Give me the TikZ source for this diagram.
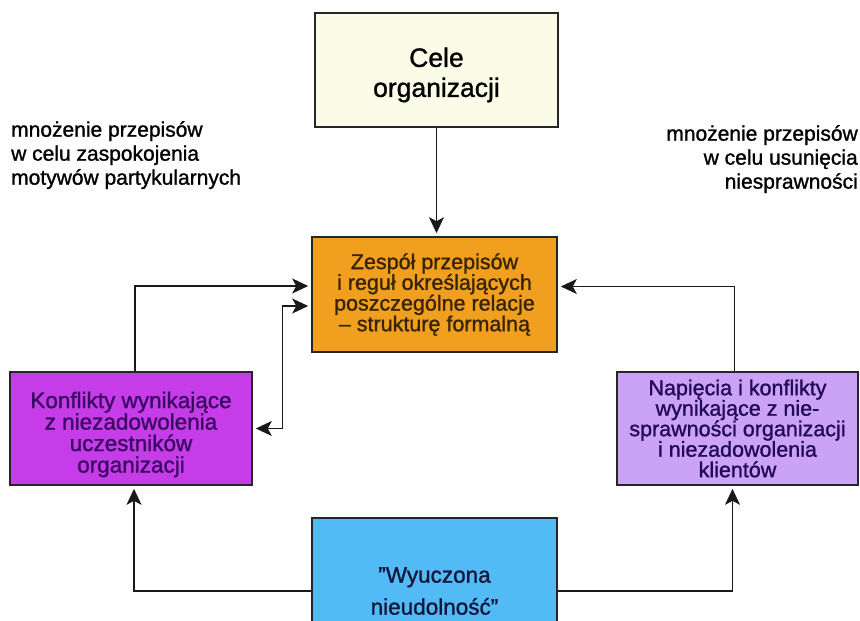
\documentclass[tikz,border=0pt]{standalone}
\usepackage{fontspec}
\setmainfont{Liberation Sans}[FakeBold=1.2]
\usetikzlibrary{arrows.meta}

\definecolor{celefill}{RGB}{251,252,232}
\definecolor{midfill}{RGB}{240,160,30}
\definecolor{midtext}{RGB}{55,35,0}
\definecolor{leftfill}{RGB}{198,60,232}
\definecolor{lefttext}{RGB}{58,10,98}
\definecolor{rightfill}{RGB}{202,162,246}
\definecolor{righttext}{RGB}{36,10,86}
\definecolor{botfill}{RGB}{82,186,245}
\definecolor{bottext}{RGB}{20,22,60}

\tikzset{
  box/.style={draw=black!85, line width=1.6pt, inner sep=0pt, align=center},
  label text/.style={inner sep=0pt, align=center},
  note/.style={inner sep=0pt, font=\fontsize{21}{24}\selectfont},
  conn/.style={line width=1.4pt, draw=black!90},
  tip/.tip={Stealth[length=16pt,width=15pt,inset=4pt]},
  arr/.style={conn, -tip, shorten >=3pt},
  arrboth/.style={conn, tip-tip, shorten >=3pt, shorten <=3pt}
}

\begin{document}
\begin{tikzpicture}[x=1pt,y=-1pt]
\useasboundingbox (0,0) rectangle (860,621);
\clip (0,0) rectangle (860,621);

% boxes
\node[box, fill=celefill, minimum width=243pt, minimum height=114pt] (cele) at (436.5,70) {};
\node[label text, font=\fontsize{26.5}{30}\selectfont] (celetxt) at ([yshift=-5pt]cele.center)
      {Cele\\organizacji};

\node[box, fill=midfill, text=midtext, minimum width=245pt, minimum height=115pt,
      font=\fontsize{21.5}{20.7}\selectfont] (zesp) at (434.5,294.5)
      {Zespół przepisów\\i reguł określających\\poszczególne relacje\\– strukturę formalną};

\node[box, fill=leftfill, minimum width=242pt, minimum height=113pt] (konf) at (131,428.5) {};
\node[label text, text=lefttext, font=\fontsize{22.5}{21.5}\selectfont] (konftxt)
      at ([yshift=-6pt]konf.center)
      {Konflikty wynikające\\z niezadowolenia\\uczestników\\organizacji};

\node[box, fill=rightfill, text=righttext, minimum width=241pt, minimum height=113pt,
      font=\fontsize{21.5}{20.5}\selectfont] (napi) at (737.5,428.5)
      {Napięcia i konflikty\\wynikające z nie-\\sprawności organizacji\\i niezadowolenia\\klientów};

\node[box, fill=botfill, text=bottext, minimum width=245pt, minimum height=146pt,
      font=\fontsize{22.5}{32}\selectfont] (wyu) at (434.5,591)
      {"Wyuczona\\nieudolność"};

% side notes
\node[note, anchor=north west, align=left] (nl) at (11,121)
      {mnożenie przepisów\\w celu zaspokojenia\\motywów partykularnych};
\node[note, anchor=north east, align=right] (nr) at (858,125)
      {mnożenie przepisów\\w celu usunięcia\\niesprawności};

% connectors
\draw[arr] (cele.south) -- (cele.south |- zesp.north);
\draw[arr] ([xshift=4pt]konf.north) |- ([yshift=8.5pt]zesp.west);
\draw[arr] ([xshift=-3pt]napi.north) |- ([yshift=8pt]zesp.east);
\draw[arrboth] ([yshift=-11.5pt]zesp.west) -- ++(-29,0) |- (konf.east);
\draw[arr] (wyu.west) -| ([xshift=3pt]konf.south);
\draw[arr] (wyu.east) -| ([xshift=-5pt]napi.south);
\end{tikzpicture}
\end{document}
